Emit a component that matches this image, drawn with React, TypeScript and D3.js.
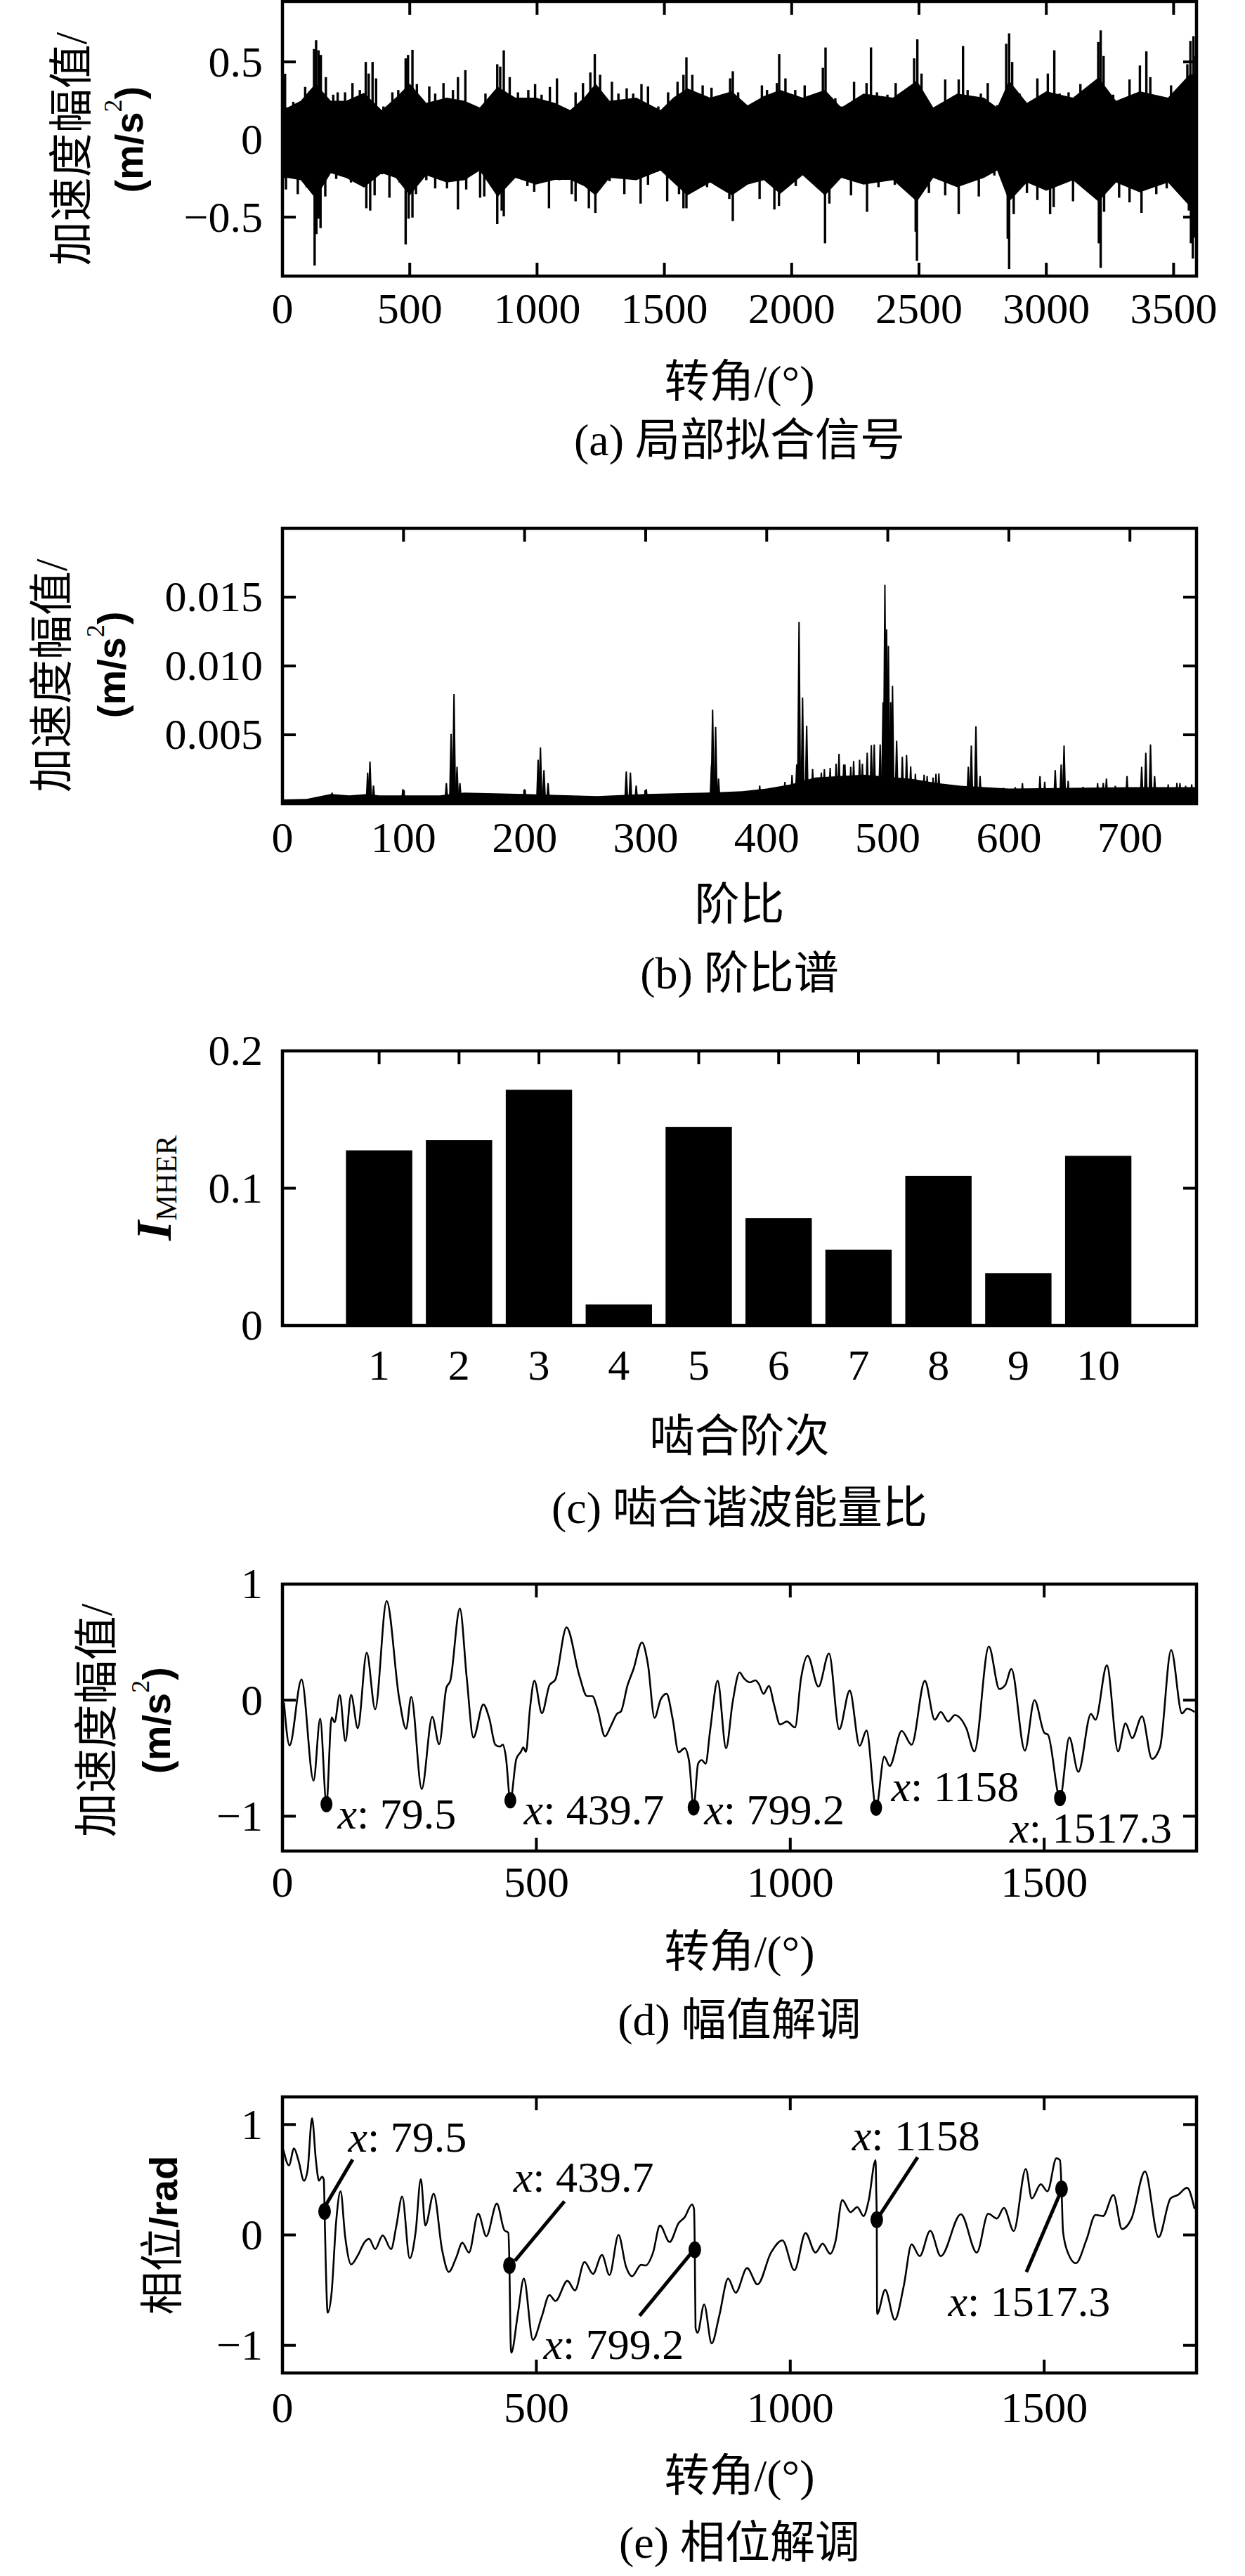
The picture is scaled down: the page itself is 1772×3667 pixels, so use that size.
import React from "react";
import * as d3 from "d3";

// ---------------- DATA ----------------
// (a) local fitted signal: dense band envelope + individual spikes
const aEnvAngle = [0, 20, 72, 130, 190, 250, 320, 390, 445, 500, 565, 645, 715, 775, 845, 915, 995, 1070, 1130, 1185, 1230, 1285, 1390, 1485, 1535, 1590, 1680, 1765, 1827, 1891, 1955, 2043, 2131, 2195, 2282, 2398, 2492, 2556, 2650, 2755, 2807, 2854, 2924, 3000, 3105, 3205, 3274, 3367, 3478, 3563, 3590];
const aEnvTop = [0.21, 0.206, 0.25, 0.36, 0.25, 0.25, 0.3, 0.19, 0.27, 0.36, 0.236, 0.27, 0.25, 0.206, 0.34, 0.27, 0.27, 0.236, 0.19, 0.27, 0.36, 0.25, 0.27, 0.19, 0.27, 0.33, 0.27, 0.31, 0.22, 0.28, 0.32, 0.27, 0.32, 0.206, 0.296, 0.27, 0.38, 0.206, 0.296, 0.27, 0.206, 0.38, 0.236, 0.31, 0.27, 0.4, 0.25, 0.31, 0.27, 0.42, 0.42];
const aEnvBottom = [-0.25, -0.247, -0.262, -0.38, -0.217, -0.247, -0.31, -0.217, -0.247, -0.36, -0.23, -0.277, -0.262, -0.2, -0.37, -0.247, -0.29, -0.26, -0.26, -0.3, -0.36, -0.247, -0.262, -0.2, -0.277, -0.36, -0.277, -0.36, -0.29, -0.262, -0.35, -0.23, -0.36, -0.247, -0.29, -0.262, -0.4, -0.247, -0.307, -0.247, -0.2, -0.4, -0.277, -0.33, -0.262, -0.4, -0.277, -0.34, -0.277, -0.43, -0.43];
const aSpikesUp: [number, number][] = [
  [10.3, 0.424], [42.8, 0.243], [89.3, 0.339], [106.7, 0.311], [124, 0.583], [132.2, 0.64], [141.5, 0.575], [150.8, 0.545], [170.5, 0.402], [199.5, 0.289], [216.9, 0.304], [245.9, 0.304], [275, 0.364], [304, 0.319], [327.2, 0.5], [338.8, 0.425], [353.9, 0.5], [367.8, 0.394], [396.8, 0.213], [431.7, 0.304], [454.9, 0.319], [483.9, 0.523], [493.2, 0.545], [510.6, 0.578], [528, 0.357], [576.7, 0.342], [600, 0.296], [632.5, 0.364], [669.6, 0.319], [689.3, 0.402], [718.4, 0.447], [739.3, 0.191], [797.3, 0.296], [843.7, 0.485], [855.3, 0.47], [869.3, 0.575], [892.5, 0.402], [925, 0.304], [965.6, 0.319], [992.3, 0.357], [1017.8, 0.289], [1050.3, 0.339], [1078.2, 0.394], [1104.9, 0.153], [1151.3, 0.304], [1180.3, 0.364], [1209.3, 0.432], [1226.7, 0.55], [1247.6, 0.417], [1294, 0.372], [1319.6, 0.296], [1352, 0.33], [1377.6, 0.296], [1410, 0.357], [1435.7, 0.342], [1476.3, 0.213], [1514.6, 0.304], [1551.7, 0.372], [1575, 0.417], [1586.6, 0.53], [1609.8, 0.417], [1650.4, 0.349], [1685.2, 0.334], [1737.4, 0.161], [1758.3, 0.394], [1768.8, 0.44], [1789.7, 0.304],
  [1839, 0.191], [1883, 0.349], [1903, 0.319], [1942, 0.364], [1951, 0.55], [1975.5, 0.394], [2014, 0.319], [2051, 0.349], [2096, 0.266], [2122.5, 0.462], [2133, 0.593], [2171.5, 0.266], [2195, 0.213], [2245, 0.372], [2294, 0.364], [2311.5, 0.593], [2335, 0.304], [2376, 0.289], [2408.5, 0.364], [2451.5, 0.259], [2481, 0.523], [2493.6, 0.646], [2510, 0.425], [2551, 0.198], [2603, 0.387], [2656, 0.387], [2673, 0.602], [2691, 0.319], [2743, 0.296], [2770, 0.364], [2807.5, 0.221], [2842.5, 0.617], [2854, 0.684], [2866, 0.5], [2895, 0.296], [2965, 0.394], [3006, 0.425], [3031.5, 0.575], [3052.5, 0.296], [3087.5, 0.304], [3134, 0.357], [3204, 0.628], [3213.6, 0.703], [3225, 0.538], [3262.6, 0.289], [3327, 0.387], [3367.6, 0.477], [3393, 0.568], [3408.5, 0.402], [3449, 0.259], [3490, 0.349], [3533, 0.236], [3554, 0.485], [3566, 0.635], [3578, 0.666], [3587, 0.538],
];
const aSpikesDown: [number, number][] = [
  [13.8, -0.322], [60.2, -0.352], [95, -0.307], [126.4, -0.812], [133.4, -0.609], [141.5, -0.51], [149.6, -0.571], [168.2, -0.367], [211.1, -0.254], [269.2, -0.277], [298.2, -0.262], [329.5, -0.443], [344.6, -0.458], [362, -0.36], [391, -0.224], [420.1, -0.375], [460.7, -0.277], [483.9, -0.676], [495.5, -0.51], [510.6, -0.503], [524.5, -0.352], [565.1, -0.262], [600, -0.315], [646.4, -0.315], [689.3, -0.451], [721.8, -0.322], [776.4, -0.375], [792.6, -0.367], [843.7, -0.545], [861.1, -0.458], [869.3, -0.495], [925, -0.247], [962.1, -0.3], [988.8, -0.337], [1046.8, -0.443], [1087.5, -0.262], [1136.2, -0.352], [1151.3, -0.398], [1203.5, -0.443], [1229, -0.473], [1249.9, -0.307], [1284.8, -0.269], [1342.8, -0.352], [1406.7, -0.413], [1435.7, -0.292], [1470.5, -0.209], [1511.1, -0.398], [1557.5, -0.352], [1575, -0.443], [1586.6, -0.443], [1633, -0.284], [1667.8, -0.307], [1702.6, -0.262], [1755, -0.383], [1768.8, -0.526], [1801.3, -0.224],
  [1874, -0.383], [1932, -0.451], [1950, -0.428], [2016, -0.3], [2093, -0.277], [2131, -0.669], [2148, -0.413], [2233, -0.36], [2296, -0.466], [2341, -0.307], [2405, -0.292], [2487, -0.594], [2492, -0.782], [2539, -0.345], [2603, -0.36], [2656, -0.481], [2735, -0.367], [2796, -0.232], [2848.5, -0.639], [2854, -0.835], [2872, -0.481], [2924, -0.345], [2965, -0.39], [3015, -0.481], [3029, -0.436], [3105, -0.398], [3157.5, -0.156], [3206.5, -0.669], [3213.6, -0.827], [3227, -0.466], [3286, -0.375], [3327, -0.405], [3374, -0.473], [3432, -0.352], [3473, -0.315], [3513.5, -0.149], [3560, -0.458], [3568, -0.669], [3575.5, -0.767], [3583, -0.632],
];
const aXTicks = [0, 500, 1000, 1500, 2000, 2500, 3000, 3500];
const aYTicks = [-0.5, 0, 0.5];

// (b) order spectrum: noise floor + spectral lines
const bFloor: [number, number][] = [
  [0, 0.0003], [20, 0.00035], [40, 0.0007], [55, 0.0006], [70, 0.0007], [80, 0.0006], [130, 0.0006], [150, 0.0008], [200, 0.0007], [260, 0.00055], [300, 0.0007], [350, 0.0008], [380, 0.0009], [400, 0.0011], [420, 0.0014], [440, 0.0019], [480, 0.0021], [520, 0.0018], [540, 0.0015], [560, 0.0013], [600, 0.0011], [700, 0.0012], [755, 0.0012],
];
const bLines: [number, number][] = [
  [41, 0.0008], [70.4, 0.00226], [72.3, 0.00306], [75.2, 0.00132], [99.5, 0.00106], [135.4, 0.00149], [139.3, 0.00507], [141.7, 0.00796], [144.2, 0.00268], [146.6, 0.00149], [200, 0.00106], [211.2, 0.00319], [213.1, 0.00408], [216, 0.00243], [219.4, 0.00149], [284, 0.00234], [287.4, 0.00226], [292.2, 0.00132], [300.5, 0.00106], [354.4, 0.00285], [355.3, 0.00682], [357.8, 0.00558], [360.2, 0.00183], [394.2, 0.00132], [415, 0.00158], [420.9, 0.00209], [424.8, 0.00285], [426.7, 0.0132], [429.6, 0.00771], [433, 0.00566], [437.9, 0.00251], [445.1, 0.00226], [447.6, 0.0025], [452.4, 0.0026], [457.3, 0.0029], [459.7, 0.00362], [463.6, 0.00285], [464.6, 0.00285], [469.4, 0.00268], [471.8, 0.0031], [476.7, 0.00319], [479, 0.0029], [483, 0.0037], [486.4, 0.00425], [488.8, 0.0043], [493.7, 0.0043], [496.1, 0.00737], [497.6, 0.01589], [499, 0.01265], [500.5, 0.01146], [502.4, 0.00737], [503.9, 0.00856], [507.3, 0.00456], [512, 0.0034], [515.5, 0.00353], [518.9, 0.0027], [522.8, 0.00217], [530, 0.0021], [532.5, 0.002], [537.4, 0.0019], [539.8, 0.00217], [542.2, 0.0022], [551.9, 0.00132], [566.5, 0.00268], [569, 0.00422], [572.8, 0.00561], [576.2, 0.002], [595.6, 0.00115], [605.3, 0.0012], [611.2, 0.00149], [625.7, 0.002], [629.6, 0.0016], [638.3, 0.00243], [643.2, 0.00285], [645.6, 0.00422], [649, 0.00166], [661.2, 0.00123], [673.3, 0.00149], [678, 0.0015], [680.6, 0.00183], [687.9, 0.0013], [697.6, 0.002], [709.7, 0.00268], [713.1, 0.0037], [717, 0.0043], [720.4, 0.002], [731.6, 0.0014], [738.8, 0.0015], [741.3, 0.00149], [746, 0.0013], [751, 0.0014],
];
const bXTicks = [0, 100, 200, 300, 400, 500, 600, 700];
const bYTicks = [0.005, 0.01, 0.015];

// (c) mesh harmonic energy ratio
const cOrders = [1, 2, 3, 4, 5, 6, 7, 8, 9, 10];
const cValues = [0.1276, 0.135, 0.1717, 0.0154, 0.1447, 0.0782, 0.0553, 0.109, 0.0382, 0.1236];
const cYTicks = [0, 0.1, 0.2];

// (d) amplitude demodulation
const dCurve: [number, number][] = [
  [3, -0.02], [14, -0.39], [37.6, 0.178], [61.3, -0.694], [74.3, -0.159], [86.7, -0.896], [96.8, -0.149], [102.7, -0.19], [112.8, 0.045], [124, -0.353], [135.2, 0.045], [148.3, -0.241], [166, 0.408], [182.6, -0.078], [205.1, 0.855], [229.9, 0.014], [243.5, -0.247], [253.6, 0.029], [274.3, -0.765], [295, -0.145], [308.6, -0.38], [322.8, 0.106], [330.5, 0.167], [349.4, 0.79], [363, 0.188], [376, -0.322], [395.6, -0.037], [407.4, -0.159], [419.2, -0.384], [428.1, -0.4], [434, -0.384], [439.9, -0.486], [448.8, -0.863], [460.6, -0.506], [469.5, -0.445], [474.2, -0.408], [479.6, -0.445], [487.3, -0.078], [496.1, 0.167], [510.9, -0.112], [525.7, 0.127], [537.5, 0.178], [559.4, 0.627], [584.9, 0.208], [599.7, 0.035], [610.3, 0.035], [620.4, -0.078], [635.2, -0.312], [647, -0.22], [658.8, -0.118], [666.5, -0.098], [679.5, 0.127], [691.4, 0.269], [707.9, 0.498], [719.7, 0.31], [732.8, -0.153], [744.6, 0.004], [756.4, 0.055], [768.3, -0.159], [780.1, -0.449], [791.9, -0.414], [800.8, -0.527], [809.7, -0.924], [818.5, -0.547], [825.6, -0.516], [833.3, -0.547], [842.2, -0.261], [857, 0.167], [873.6, -0.414], [886.6, -0.016], [900.2, 0.239], [908.8, 0.188], [920.7, 0.153], [931.3, 0.171], [938.4, 0.137], [947.3, 0.055], [958, 0.122], [968, -0.037], [979.8, -0.21], [993.4, -0.184], [1009.4, -0.235], [1021.2, 0.188], [1034.2, 0.382], [1055.5, 0.116], [1076.3, 0.402], [1096.4, -0.251], [1117.1, 0.082], [1136.6, -0.394], [1150.2, -0.261], [1169.1, -0.927], [1185.1, -0.486], [1195.8, -0.567], [1219.4, -0.265], [1239, -0.384], [1265, 0.167], [1284.5, -0.169], [1296.3, -0.102], [1311.1, -0.184], [1324.1, -0.129], [1346.6, -0.241], [1362.6, -0.441], [1391, 0.463], [1411.7, 0.096], [1423.5, 0.131], [1435.4, 0.269], [1462, -0.435], [1480.9, 0], [1500.4, -0.282], [1507.5, -0.298], [1531.2, -0.843], [1549.5, -0.322], [1567.3, -0.618], [1592.1, -0.118], [1601, -0.169], [1623.5, 0.3], [1645.4, -0.441], [1660.2, -0.2], [1673.2, -0.327], [1692.7, -0.139], [1712.2, -0.506], [1728.2, -0.404], [1750, 0.433], [1771.4, -0.114], [1781.4, -0.073], [1796.2, -0.102],
];
const dMarkers: [number, number][] = [[86.7, -0.896], [448.8, -0.863], [809.7, -0.924], [1169.1, -0.927], [1531.2, -0.843]];
const dLabelText = ["79.5", "439.7", "799.2", "1158", "1517.3"];
const dLabelPos: [number, number][] = [[108.6, -1.108], [475.4, -1.067], [830.4, -1.067], [1198.7, -0.873], [1432.4, -1.225]];

// (e) phase demodulation
const eCurve: [number, number][] = [
  [2.1, 0.768], [12.8, 0.63], [22.8, 0.783], [31.7, 0.672], [42.4, 0.491], [49.5, 0.587], [58.3, 1.057], [66, 0.672], [71.9, 0.491], [78, 0.527], [81.5, 0.5], [83, 0.213], [85.5, -0.3], [89.1, -0.704], [96.8, -0.523], [105.7, 0.117], [114.5, 0.395], [123.4, -0.011], [135.3, -0.267], [148.9, -0.181], [161.9, -0.064], [170.7, -0.036], [182.6, -0.128], [197.4, -0.004], [214, -0.128], [224, 0.075], [235.8, 0.348], [250.6, -0.213], [262.4, 0.032], [272.5, 0.506], [281.4, 0.085], [297.9, 0.374], [314.5, -0.139], [327.5, -0.335], [342.3, -0.203], [354.2, -0.07], [367.2, -0.16], [385.5, 0.192], [401.5, -0.011], [422.2, 0.284], [437, 0.043], [444.7, 0.021], [447, -0.277], [449, -0.9], [450.6, -1.067], [463.6, -0.715], [475.4, -0.395], [493.2, -0.95], [510.9, -0.736], [525.7, -0.544], [537.5, -0.598], [561.2, -0.416], [576, -0.502], [594.9, -0.245], [611.5, -0.352], [629.2, -0.181], [644, -0.363], [661.8, 0], [676.6, -0.288], [688.4, -0.374], [706.2, -0.271], [715, -0.277], [729.8, -0.16], [743.4, 0.085], [762.4, -0.064], [780.1, 0.107], [791.9, 0.16], [806.7, 0.277], [810.5, 0.235], [812, -0.134], [813.5, -0.843], [817.4, -0.886], [830.4, -0.63], [845.2, -0.982], [860, -0.736], [877.7, -0.395], [892.5, -0.523], [915, -0.3], [935.5, -0.448], [962.1, -0.16], [984.6, -0.049], [1008.2, -0.32], [1030.1, 0.017], [1049.6, -0.16], [1063.8, -0.079], [1078.6, -0.171], [1089.3, -0.053], [1102.3, 0.316], [1118.8, 0.207], [1132, 0.252], [1144.3, 0.171], [1154.3, 0.31], [1168, 0.677], [1169.3, 0.4], [1170.3, 0.139], [1171, -0.715], [1186.9, -0.497], [1205.8, -0.768], [1223.6, -0.459], [1238.9, -0.085], [1254.9, -0.192], [1275.6, 0.038], [1296.3, -0.192], [1336, 0.188], [1367.3, -0.16], [1389.8, 0.192], [1407, 0.149], [1420.6, 0.245], [1440.1, 0.036], [1463.8, 0.598], [1475.6, 0.331], [1493.3, 0.459], [1506.4, 0.395], [1524.1, 0.694], [1531.2, 0.677], [1534.2, 0.416], [1537.1, 0.032], [1546.6, -0.16], [1562.5, -0.256], [1583.3, -0.043], [1601, 0.181], [1615.8, 0.171], [1636.5, 0.363], [1653.1, 0.053], [1672, 0.149], [1698.6, 0.576], [1725.2, -0.021], [1748.9, 0.331], [1763.7, 0.363], [1781.4, 0.427], [1796.2, 0.235],
];
const eMarkers: [number, number][] = [[83, 0.213], [447, -0.277], [812, -0.134], [1170.3, 0.139], [1534.2, 0.416]];
const eLabelText = ["79.5", "439.7", "799.2", "1158", "1517.3"];
const eLabelPos: [number, number][] = [[129.3, 0.753], [454.7, 0.391], [513.9, -1.12], [1121.8, 0.768], [1311, -0.736]];
const eLeaderFrom: [number, number][] = [[85, 0.267], [457.7, -0.235], [803.8, -0.171], [1175, 0.171], [1533, 0.395]];
const eLeaderTo: [number, number][] = [[138.2, 0.683], [555.3, 0.305], [703.2, -0.732], [1250.8, 0.704], [1465, -0.335]];

const deXTicks = [0, 500, 1000, 1500];
const deYTicks = [-1, 0, 1];

// ---------------- STYLE ----------------
const FONT_SERIF = "'Liberation Serif','Times New Roman',serif";
const FONT_MIX = "'Liberation Serif','Noto Sans CJK SC',serif";
const FONT_SANS = "'Liberation Sans',Arial,sans-serif";
const LEFT = 402;
const RIGHT = 1703;
const CX = (LEFT + RIGHT) / 2;
const TICK_LEN = 19;
const FRAME_W = 4.5;
const TICK_FS = 62;
const TITLE_FS = 64;
const ANNOT_FS = 62;
const YTICK_X = 374;

const fmtMinus = (s: string) => s.replace("-", "\u2212");

function Frame({ xs, ys, xTicks, yTicks, bottomTicks = true }: any) {
  const [x0, x1] = xs.range();
  const [yb, yt] = ys.range();
  return (
    <g stroke="#000" strokeWidth={4} fill="none">
      {xTicks.map((v: number) => (
        <g key={"x" + v}>
          <line x1={xs(v)} x2={xs(v)} y1={yt} y2={yt + TICK_LEN} />
          {bottomTicks && <line x1={xs(v)} x2={xs(v)} y1={yb} y2={yb - TICK_LEN} />}
        </g>
      ))}
      {yTicks.map((v: number) => (
        <g key={"y" + v}>
          <line x1={x0} x2={x0 + TICK_LEN} y1={ys(v)} y2={ys(v)} />
          <line x1={x1} x2={x1 - TICK_LEN} y1={ys(v)} y2={ys(v)} />
        </g>
      ))}
      <rect x={x0} y={yt} width={x1 - x0} height={yb - yt} strokeWidth={FRAME_W} />
    </g>
  );
}

function XTickLabels({ xs, ticks, cy, fmt }: any) {
  return (
    <g fontFamily={FONT_SERIF} fontSize={TICK_FS} textAnchor="middle">
      {ticks.map((v: number) => (
        <text key={v} x={xs(v)} y={cy} dy="0.33em">{fmt ? fmt(v) : String(v)}</text>
      ))}
    </g>
  );
}

function YTickLabels({ ys, ticks, fmt }: any) {
  return (
    <g fontFamily={FONT_SERIF} fontSize={TICK_FS} textAnchor="end">
      {ticks.map((v: number) => (
        <text key={v} x={YTICK_X} y={ys(v)} dy="0.33em">{fmtMinus(fmt ? fmt(v) : String(v))}</text>
      ))}
    </g>
  );
}

function CjkText({ x, cy, text, size = TITLE_FS }: any) {
  return (
    <text x={x} y={cy} dy="0.36em" textAnchor="middle" fontFamily={FONT_MIX} fontSize={size}>{text}</text>
  );
}

function AccelYLabel({ x1, cy1, x2, cy2 }: any) {
  return (
    <g>
      <text transform={`translate(${x1},${cy1}) rotate(-90)`} textAnchor="middle" dominantBaseline="central" fontFamily={FONT_MIX} fontSize={63}>加速度幅值/</text>
      <text transform={`translate(${x2},${cy2}) rotate(-90)`} textAnchor="middle" dominantBaseline="central" fontFamily={FONT_SANS} fontWeight="bold" fontSize={56}>
        (m/s<tspan fontFamily={FONT_SERIF} fontWeight="normal" fontSize={36} dy={-22}>2</tspan><tspan dy={22}>)</tspan>
      </text>
    </g>
  );
}

function PanelA() {
  const xs = d3.scaleLinear().domain([0, 3590]).range([LEFT, RIGHT]);
  const ys = d3.scaleLinear().domain([-0.88, 0.89]).range([393, 2]);
  const idx = d3.range(aEnvAngle.length);
  const area = d3.area<number>().x((i) => xs(aEnvAngle[i])).y0((i) => ys(aEnvBottom[i])).y1((i) => ys(aEnvTop[i]));
  return (
    <g>
      <defs>
        <clipPath id="clipA"><rect x={LEFT} y={2} width={RIGHT - LEFT} height={391} /></clipPath>
      </defs>
      <g clipPath="url(#clipA)">
        <path d={area(idx) || ""} fill="#000" />
        <g stroke="#000" strokeWidth={3.4}>
          {aSpikesUp.map(([a, v], i) => <line key={"u" + i} x1={xs(a)} x2={xs(a)} y1={ys(0)} y2={ys(v)} />)}
          {aSpikesDown.map(([a, v], i) => <line key={"d" + i} x1={xs(a)} x2={xs(a)} y1={ys(0)} y2={ys(v)} />)}
        </g>
      </g>
      <Frame xs={xs} ys={ys} xTicks={aXTicks} yTicks={aYTicks} />
      <XTickLabels xs={xs} ticks={aXTicks} cy={440} />
      <YTickLabels ys={ys} ticks={aYTicks} />
      <AccelYLabel x1={101.7} cy1={212} x2={183} cy2={198.7} />
      <CjkText x={CX} cy={542} text="转角/(°)" />
      <CjkText x={CX} cy={625} text="(a) 局部拟合信号" />
    </g>
  );
}

function PanelB() {
  const xs = d3.scaleLinear().domain([0, 755]).range([LEFT, RIGHT]);
  const ys = d3.scaleLinear().domain([0, 0.02]).range([1144, 752]);
  const area = d3.area<[number, number]>().x((d) => xs(d[0])).y0(ys(0)).y1((d) => ys(d[1]));
  const spike = (o: number, v: number) => {
    const x = xs(o);
    const yb = ys(0);
    const yt = ys(v);
    const p = d3.path();
    p.moveTo(x - 3, yb);
    p.lineTo(x - 2.6, yb - (yb - yt) * 0.25);
    p.lineTo(x - 1, yt);
    p.lineTo(x + 1, yt);
    p.lineTo(x + 2.6, yb - (yb - yt) * 0.25);
    p.lineTo(x + 3, yb);
    p.closePath();
    return p.toString();
  };
  return (
    <g>
      <defs>
        <clipPath id="clipB"><rect x={LEFT} y={752} width={RIGHT - LEFT} height={392} /></clipPath>
      </defs>
      <g clipPath="url(#clipB)">
        <path d={area(bFloor) || ""} fill="#000" />
        <g fill="#000">
          {bLines.map(([o, v], i) => <path key={i} d={spike(o, v)} />)}
        </g>
      </g>
      <Frame xs={xs} ys={ys} xTicks={bXTicks} yTicks={bYTicks} />
      <XTickLabels xs={xs} ticks={bXTicks} cy={1192.6} />
      <YTickLabels ys={ys} ticks={bYTicks} fmt={(v: number) => d3.format(".3f")(v)} />
      <AccelYLabel x1={73.5} cy1={961.8} x2={158.3} cy2={946.3} />
      <CjkText x={CX} cy={1286} text="阶比" />
      <CjkText x={CX} cy={1384} text="(b) 阶比谱" />
    </g>
  );
}

function PanelC() {
  const xs = d3.scaleLinear().domain([-0.21, 11.23]).range([LEFT, RIGHT]);
  const ys = d3.scaleLinear().domain([0, 0.2]).range([1887, 1496]);
  const bw = xs(0.83) - xs(0);
  return (
    <g>
      {cOrders.map((o, i) => (
        <rect key={o} x={xs(o) - bw / 2} y={ys(cValues[i])} width={bw} height={ys(0) - ys(cValues[i])} fill="#000" />
      ))}
      <Frame xs={xs} ys={ys} xTicks={cOrders} yTicks={cYTicks} bottomTicks={false} />
      <XTickLabels xs={xs} ticks={cOrders} cy={1943.5} />
      <YTickLabels ys={ys} ticks={cYTicks} />
      <text transform="translate(243,1691) rotate(-90)" textAnchor="middle" fontFamily={FONT_SERIF}>
        <tspan fontStyle="italic" fontWeight="bold" fontSize={72}>I</tspan>
        <tspan fontSize={42} dy={8}>MHER</tspan>
      </text>
      <CjkText x={CX} cy={2043} text="啮合阶次" />
      <CjkText x={CX} cy={2145} text="(c) 啮合谐波能量比" />
    </g>
  );
}

function Annot({ x, y, label }: any) {
  return (
    <text x={x} y={y} fontFamily={FONT_SERIF} fontSize={ANNOT_FS}>
      <tspan fontStyle="italic">x</tspan>: {label}
    </text>
  );
}

function PanelD() {
  const xs = d3.scaleLinear().domain([0, 1800]).range([LEFT, RIGHT]);
  const ys = d3.scaleLinear().domain([-1.3, 1]).range([2635, 2255]);
  const line = d3.line<[number, number]>().x((d) => xs(d[0])).y((d) => ys(d[1])).curve(d3.curveMonotoneX);
  return (
    <g>
      <defs>
        <clipPath id="clipD"><rect x={LEFT} y={2255} width={RIGHT - LEFT} height={380} /></clipPath>
      </defs>
      <path d={line(dCurve) || ""} fill="none" stroke="#000" strokeWidth={2.6} clipPath="url(#clipD)" />
      {dMarkers.map(([a, v], i) => <ellipse key={i} cx={xs(a)} cy={ys(v)} rx={8.5} ry={11.5} fill="#000" />)}
      {dLabelPos.map(([a, v], i) => <Annot key={i} x={xs(a)} y={ys(v)} label={dLabelText[i]} />)}
      <Frame xs={xs} ys={ys} xTicks={deXTicks} yTicks={deYTicks} />
      <XTickLabels xs={xs} ticks={deXTicks} cy={2680} />
      <YTickLabels ys={ys} ticks={deYTicks} />
      <AccelYLabel x1={138} cy1={2449} x2={222} cy2={2449} />
      <CjkText x={CX} cy={2777} text="转角/(°)" />
      <CjkText x={CX} cy={2874} text="(d) 幅值解调" />
    </g>
  );
}

function PanelE() {
  const xs = d3.scaleLinear().domain([0, 1800]).range([LEFT, RIGHT]);
  const ys = d3.scaleLinear().domain([-1.25, 1.25]).range([3378, 2985]);
  const line = d3.line<[number, number]>().x((d) => xs(d[0])).y((d) => ys(d[1])).curve(d3.curveMonotoneX);
  return (
    <g>
      <defs>
        <clipPath id="clipE"><rect x={LEFT} y={2985} width={RIGHT - LEFT} height={393} /></clipPath>
      </defs>
      <path d={line(eCurve) || ""} fill="none" stroke="#000" strokeWidth={2.6} clipPath="url(#clipE)" />
      {eLeaderFrom.map(([a, v], i) => (
        <line key={i} x1={xs(a)} y1={ys(v)} x2={xs(eLeaderTo[i][0])} y2={ys(eLeaderTo[i][1])} stroke="#000" strokeWidth={5} />
      ))}
      {eMarkers.map(([a, v], i) => <ellipse key={i} cx={xs(a)} cy={ys(v)} rx={9} ry={12} fill="#000" />)}
      {eLabelPos.map(([a, v], i) => <Annot key={i} x={xs(a)} y={ys(v)} label={eLabelText[i]} />)}
      <Frame xs={xs} ys={ys} xTicks={deXTicks} yTicks={deYTicks} />
      <XTickLabels xs={xs} ticks={deXTicks} cy={3427.4} />
      <YTickLabels ys={ys} ticks={deYTicks} />
      <text transform="translate(231.7,3182) rotate(-90)" textAnchor="middle" dominantBaseline="central" fontFamily={FONT_MIX} fontSize={62}>
        相位<tspan fontFamily={FONT_SANS} fontWeight="bold" fontSize={56}>/rad</tspan>
      </text>
      <CjkText x={CX} cy={3522.6} text="转角/(°)" />
      <CjkText x={CX} cy={3618} text="(e) 相位解调" />
    </g>
  );
}

export default function App() {
  return (
    <svg width={1772} height={3667} viewBox="0 0 1772 3667" style={{ position: "absolute", left: 0, top: 0, background: "#fff" }}>
      <rect x={0} y={0} width={1772} height={3667} fill="#fff" />
      <PanelA />
      <PanelB />
      <PanelC />
      <PanelD />
      <PanelE />
    </svg>
  );
}
